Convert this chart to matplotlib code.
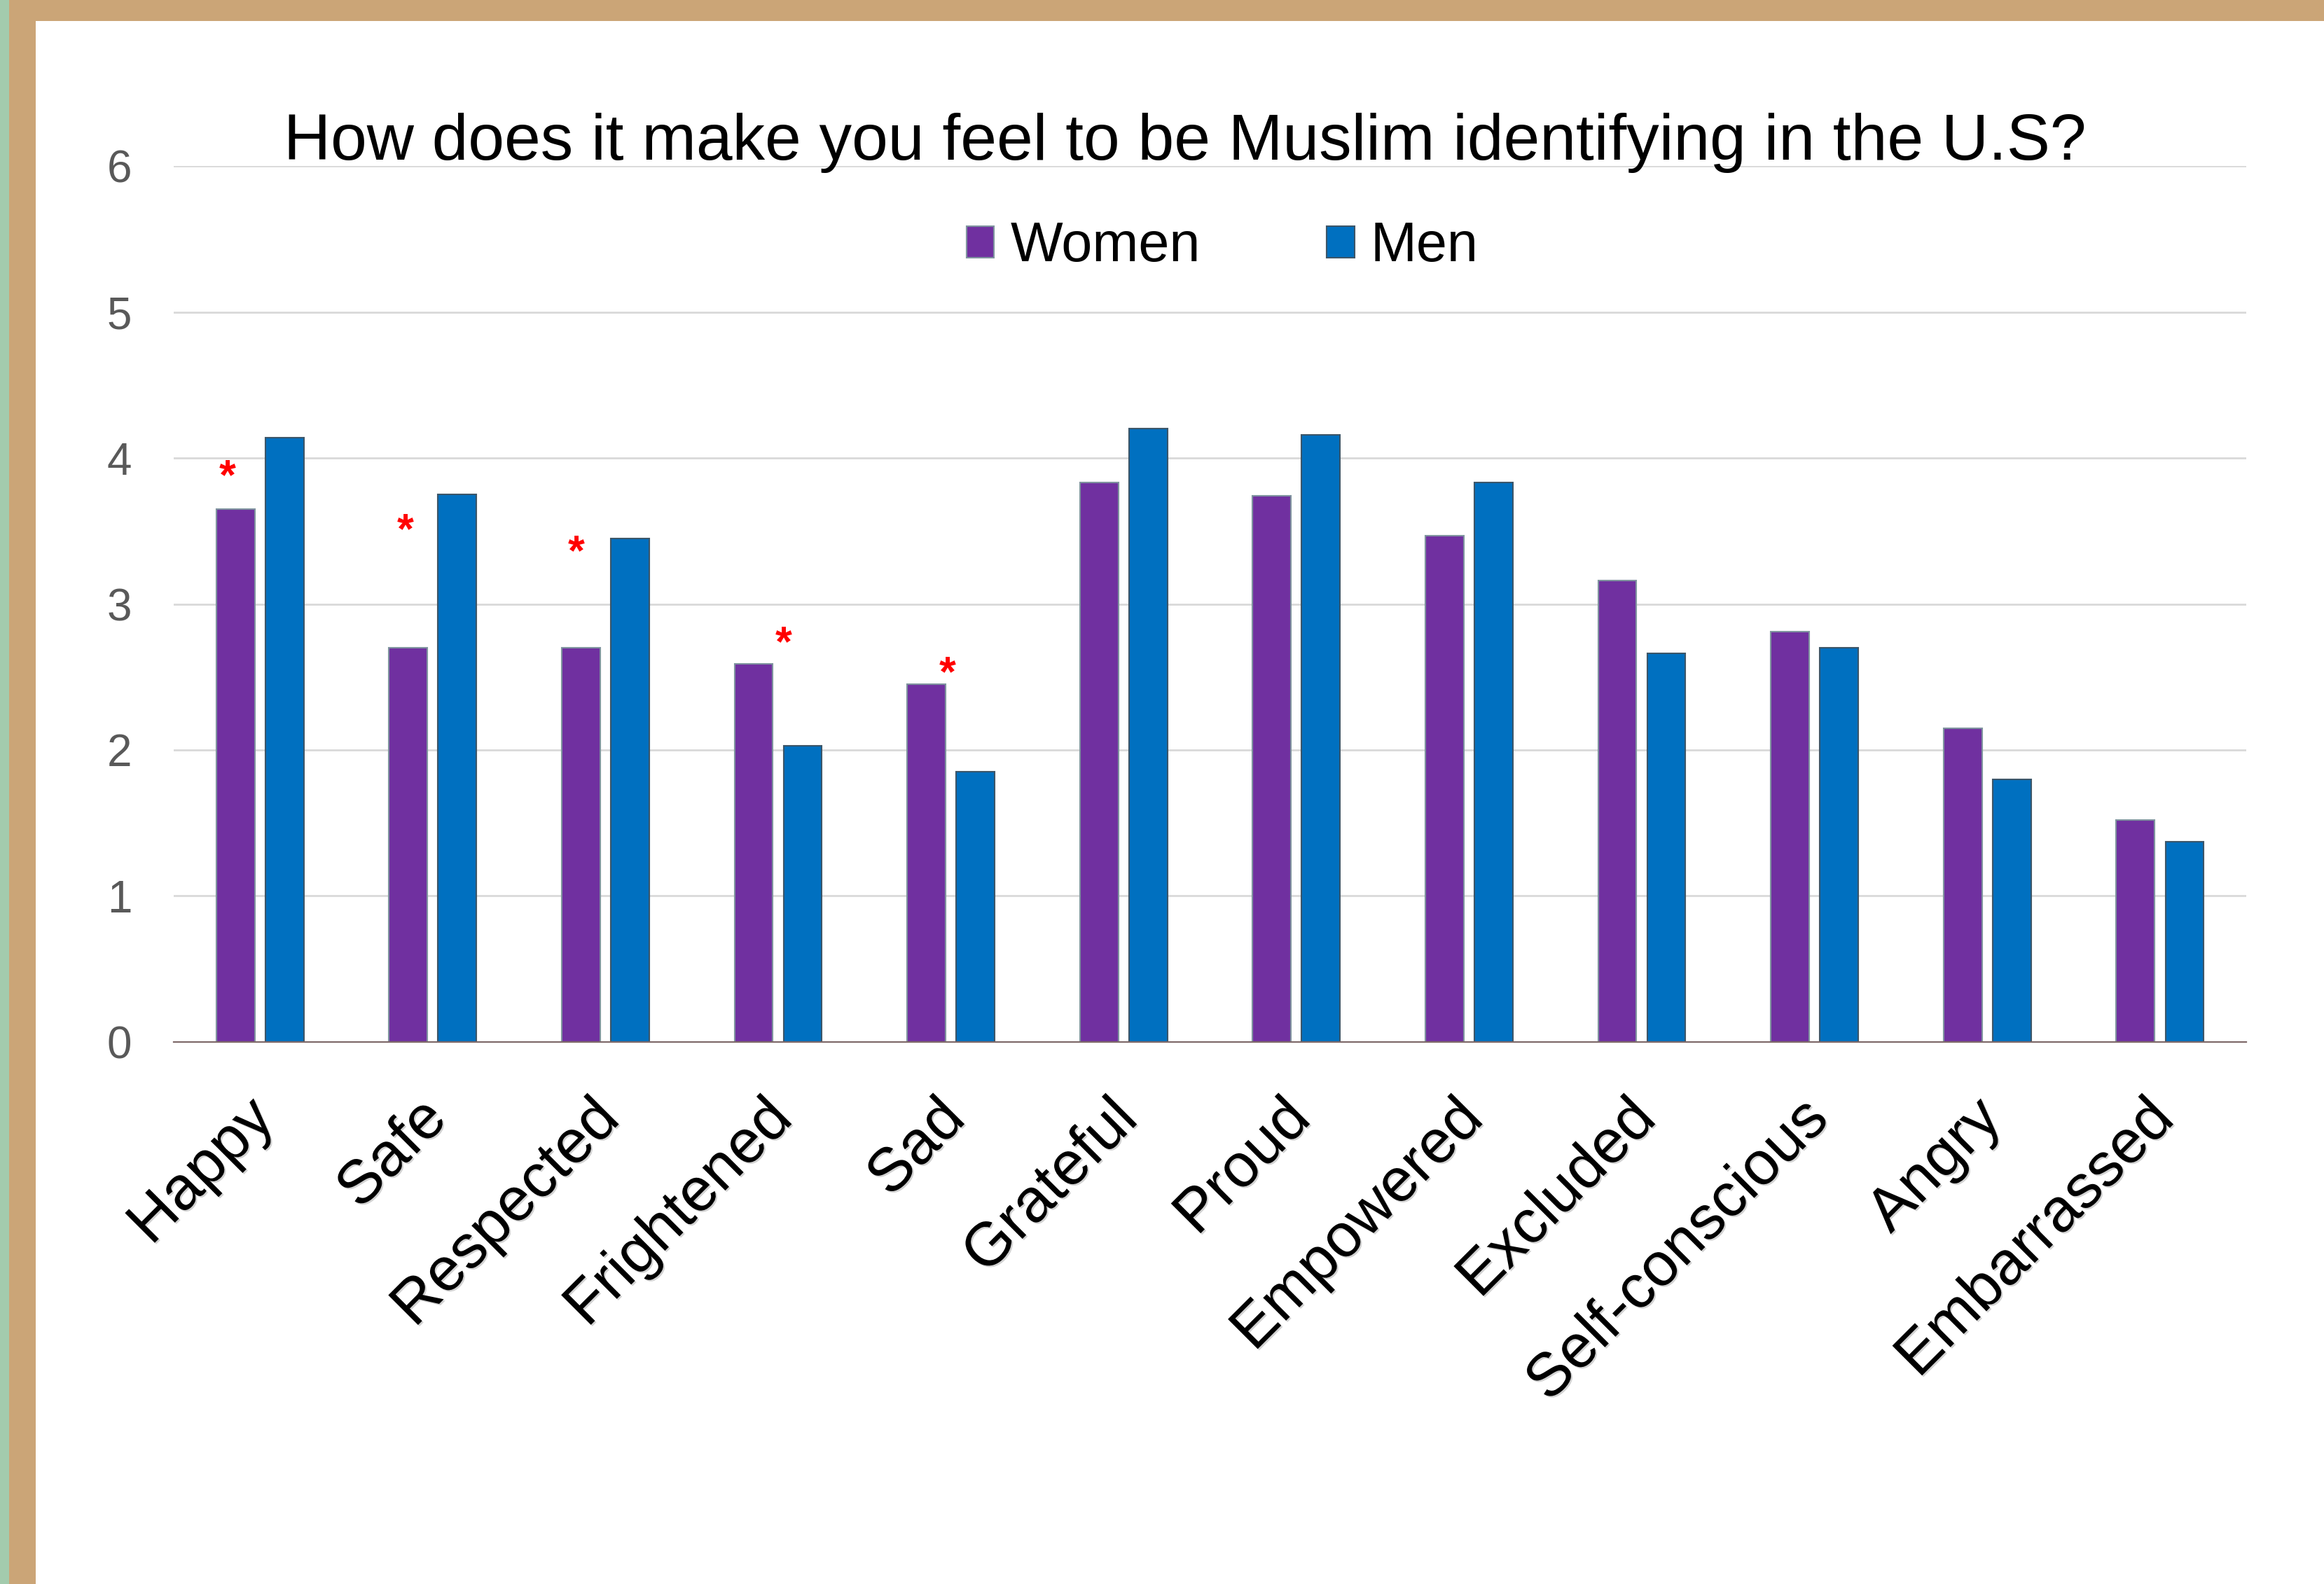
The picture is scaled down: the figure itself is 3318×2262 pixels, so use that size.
import numpy as np
import matplotlib
matplotlib.use("Agg")
import matplotlib.pyplot as plt
from matplotlib.patches import Rectangle
import matplotlib.patheffects as pe
from matplotlib.transforms import ScaledTranslation

plt.rcParams['font.family'] = ['Liberation Sans', 'DejaVu Sans']

# data
feelings = ["Happy", "Safe", "Respected", "Frightened", "Sad", "Grateful",
            "Proud", "Empowered", "Excluded", "Self-conscious", "Angry", "Embarrassed"]
women = [3.65, 2.70, 2.70, 2.59, 2.45, 3.83, 3.74, 3.47, 3.16, 2.81, 2.15, 1.52]
men = [4.14, 3.75, 3.45, 2.03, 1.85, 4.20, 4.16, 3.83, 2.66, 2.70, 1.80, 1.37]

# significance marks: category index, x offset within group, height
star_idx = [0, 1, 2, 3, 4]
star_dx = [-0.19, -0.16, -0.17, 0.03, -0.02]
star_y = [3.92, 3.55, 3.40, 2.78, 2.57]

title = "How does it make you feel to be Muslim identifying in the U.S?"

fig = plt.figure(figsize=(33.18, 22.62), dpi=100)
W, H = 3318, 2262

# frame decoration (green strip + tan border)
fig.patches.append(Rectangle((0, 0), 13 / W, 1, transform=fig.transFigure,
                             facecolor="#a3cbad", edgecolor="none", zorder=0))
fig.patches.append(Rectangle((13 / W, 0), 38 / W, 1, transform=fig.transFigure,
                             facecolor="#cba577", edgecolor="none", zorder=0))
fig.patches.append(Rectangle((13 / W, 1 - 30 / H), 1, 30 / H, transform=fig.transFigure,
                             facecolor="#cba577", edgecolor="none", zorder=0))

ax = fig.add_axes([0.0747, 0.3422, 0.8919, 0.553])

x = np.arange(len(feelings))
bw = 0.222
off = 0.142
ax.bar(x - off, women, bw, color="#7030a0", edgecolor="#7f939f", linewidth=1.5, label="Women")
ax.bar(x + off, men, bw, color="#0070c0", edgecolor="#3c5669", linewidth=1.5, label="Men")

# glyph sits high in its box, nudge the text down a bit
star_shift = ScaledTranslation(0, -0.12, fig.dpi_scale_trans)
for i, dx, yv in zip(star_idx, star_dx, star_y):
    ax.text(x[i] + dx, yv, "*", color="red", fontsize=44, fontweight="bold",
            ha="center", va="center", transform=ax.transData + star_shift)

ax.set_xlim(-0.5, len(feelings) - 0.5)
ax.set_ylim(0, 6)
ax.set_yticks(range(0, 7))
ax.yaxis.grid(True, color="#d9d9d9", linewidth=2)
ax.set_axisbelow(True)
for s in ["top", "right", "left"]:
    ax.spines[s].set_visible(False)
ax.spines["bottom"].set_color("#7f6a6a")
ax.spines["bottom"].set_linewidth(1.6)

ax.tick_params(axis="y", length=0, pad=43, labelsize=46, labelcolor="#595959")
ax.tick_params(axis="x", length=0, pad=40)
ax.set_xticks(x)
ax.set_xticklabels(feelings, fontsize=63, rotation=45, ha="right", va="top",
                   rotation_mode="anchor")
lab_shift = ScaledTranslation(-0.21, -0.13, fig.dpi_scale_trans)
for lab in ax.get_xticklabels():
    lab.set_transform(lab.get_transform() + lab_shift)
    lab.set_path_effects([pe.withSimplePatchShadow(offset=(1.5, -1.5), shadow_rgbFace="gray", alpha=0.35)])

fig.text(0.510, 1 - 228 / H, title, fontsize=67, ha="center", va="baseline")

fig.legend(loc="center", bbox_to_anchor=(0.526, 0.844), ncol=2, frameon=False,
           fontsize=57, handlelength=0.5, handleheight=0.5, handletextpad=0.29,
           columnspacing=2.28, borderpad=0)

fig.savefig("out.png", dpi=100)
